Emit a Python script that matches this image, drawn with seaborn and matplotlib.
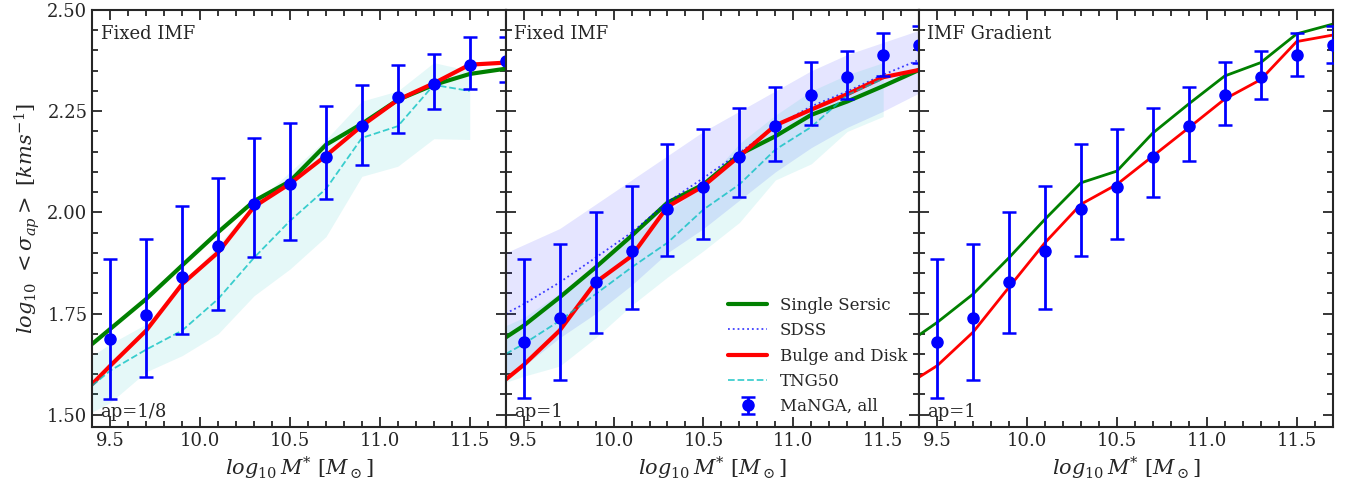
import matplotlib
matplotlib.use("Agg")
import matplotlib.pyplot as plt
import seaborn as sns
from matplotlib.ticker import MultipleLocator

# MaNGA binned measurements (stellar mass bins)
mass_bins = [9.5, 9.7, 9.9, 10.1, 10.3, 10.5, 10.7, 10.9, 11.1, 11.3, 11.5, 11.7]
manga_ap8 = [1.687, 1.747, 1.841, 1.917, 2.020, 2.071, 2.137, 2.213, 2.285, 2.318, 2.364, 2.375]
manga_ap8_hi = [1.886, 1.935, 2.016, 2.084, 2.184, 2.220, 2.262, 2.314, 2.363, 2.391, 2.433, 2.434]
manga_ap8_lo = [1.539, 1.594, 1.700, 1.758, 1.889, 1.931, 2.034, 2.117, 2.196, 2.255, 2.305, 2.323]
manga_ap1 = [1.679, 1.738, 1.829, 1.904, 2.009, 2.062, 2.137, 2.213, 2.291, 2.334, 2.389, 2.413]
manga_ap1_hi = [1.886, 1.921, 2.002, 2.065, 2.168, 2.205, 2.259, 2.310, 2.372, 2.398, 2.443, 2.461]
manga_ap1_lo = [1.542, 1.587, 1.702, 1.761, 1.892, 1.935, 2.039, 2.126, 2.215, 2.281, 2.337, 2.370]

# model curves
mass_model = [9.4, 9.5, 9.7, 9.9, 10.1, 10.3, 10.5, 10.7, 10.9, 11.1, 11.3, 11.5, 11.7]
sersic_fixed_ap8 = [1.675, 1.712, 1.786, 1.869, 1.951, 2.028, 2.077, 2.167, 2.219, 2.278, 2.315, 2.342, 2.355]
bd_fixed_ap8 = [1.576, 1.621, 1.708, 1.823, 1.901, 2.014, 2.071, 2.140, 2.214, 2.278, 2.319, 2.365, 2.370]
sersic_fixed_ap1 = [1.691, 1.720, 1.790, 1.864, 1.942, 2.024, 2.069, 2.143, 2.188, 2.241, 2.274, 2.312, 2.352]
bd_fixed_ap1 = [1.587, 1.623, 1.708, 1.827, 1.892, 2.014, 2.065, 2.139, 2.215, 2.254, 2.292, 2.334, 2.352]
sersic_grad_ap1 = [1.697, 1.728, 1.798, 1.888, 1.983, 2.073, 2.102, 2.196, 2.268, 2.337, 2.370, 2.441, 2.465]
bd_grad_ap1 = [1.593, 1.621, 1.704, 1.815, 1.925, 2.020, 2.069, 2.139, 2.209, 2.280, 2.328, 2.422, 2.438]

# SDSS (ap=1)
sdss = [1.750, 1.773, 1.827, 1.888, 1.950, 2.025, 2.085, 2.147, 2.213, 2.262, 2.299, 2.340, 2.377]
sdss_hi = [1.900, 1.920, 1.960, 2.020, 2.080, 2.140, 2.200, 2.250, 2.300, 2.350, 2.390, 2.420, 2.450]
sdss_lo = [1.600, 1.620, 1.690, 1.750, 1.820, 1.900, 1.960, 2.030, 2.100, 2.160, 2.210, 2.250, 2.295]

# TNG50
mass_tng = [9.4, 9.5, 9.7, 9.9, 10.1, 10.3, 10.5, 10.7, 10.9, 11.1, 11.3, 11.5]
tng_ap8 = [1.572, 1.609, 1.661, 1.708, 1.786, 1.888, 1.979, 2.058, 2.184, 2.213, 2.315, 2.300]
tng_ap8_hi = [1.646, 1.675, 1.724, 1.820, 1.920, 2.020, 2.100, 2.180, 2.275, 2.300, 2.370, 2.350]
tng_ap8_lo = [1.507, 1.530, 1.606, 1.646, 1.700, 1.794, 1.860, 1.940, 2.089, 2.114, 2.182, 2.180]
tng_ap1 = [1.650, 1.675, 1.732, 1.798, 1.864, 1.925, 2.007, 2.069, 2.155, 2.211, 2.290, 2.330]
tng_ap1_hi = [1.720, 1.740, 1.800, 1.870, 1.940, 2.000, 2.070, 2.170, 2.240, 2.300, 2.340, 2.370]
tng_ap1_lo = [1.580, 1.595, 1.620, 1.690, 1.770, 1.840, 1.905, 1.975, 2.080, 2.120, 2.200, 2.237]

sns.set_style("ticks")
plt.rcParams["font.family"] = ["DejaVu Serif"]
plt.rcParams["mathtext.fontset"] = "dejavuserif"

fig, axes = plt.subplots(1, 3, figsize=(13.57, 5.01), dpi=100, sharey=True)
fig.subplots_adjust(left=0.068, right=0.982, top=0.98, bottom=0.148, wspace=0)


def manga(ax, y, hi, lo):
    err = [[v - l for v, l in zip(y, lo)], [h - v for v, h in zip(y, hi)]]
    return ax.errorbar(mass_bins, y, yerr=err, fmt="o", color="b", ms=8,
                       elinewidth=2, capsize=5, capthick=1.8, label="MaNGA, all", zorder=5)


# panel 1: fixed IMF, ap=1/8
ax = axes[0]
ax.fill_between(mass_tng, tng_ap8_lo, tng_ap8_hi, color="c", alpha=0.1, lw=0)
sns.lineplot(x=mass_model, y=sersic_fixed_ap8, ax=ax, color="g", lw=3)
sns.lineplot(x=mass_model, y=bd_fixed_ap8, ax=ax, color="r", lw=3)
sns.lineplot(x=mass_tng, y=tng_ap8, ax=ax, color="c", lw=1.3, ls="--", alpha=0.75)
manga(ax, manga_ap8, manga_ap8_hi, manga_ap8_lo)
ax.text(0.02, 0.965, "Fixed IMF", transform=ax.transAxes, fontsize=13, va="top")
ax.text(0.02, 0.015, "ap=1/8", transform=ax.transAxes, fontsize=13, va="bottom")

# panel 2: fixed IMF, ap=1, with SDSS
ax = axes[1]
ax.fill_between(mass_model, sdss_lo, sdss_hi, color="b", alpha=0.1, lw=0)
ax.fill_between(mass_tng, tng_ap1_lo, tng_ap1_hi, color="c", alpha=0.1, lw=0)
h1 = ax.plot(mass_model, sersic_fixed_ap1, color="g", lw=3, label="Single Sersic")[0]
h2 = ax.plot(mass_model, sdss, color="b", lw=1.3, ls=":", alpha=0.75, label="SDSS")[0]
h3 = ax.plot(mass_model, bd_fixed_ap1, color="r", lw=3, label="Bulge and Disk")[0]
h4 = ax.plot(mass_tng, tng_ap1, color="c", lw=1.3, ls="--", alpha=0.75, label="TNG50")[0]
h5 = manga(ax, manga_ap1, manga_ap1_hi, manga_ap1_lo)
ax.text(0.02, 0.965, "Fixed IMF", transform=ax.transAxes, fontsize=13, va="top")
ax.text(0.02, 0.015, "ap=1", transform=ax.transAxes, fontsize=13, va="bottom")
ax.legend(handles=[h1, h2, h3, h4, h5], loc="lower right", frameon=False,
          fontsize=12, handlelength=2.3, borderaxespad=0.3, labelspacing=0.5)

# panel 3: IMF gradient, ap=1
ax = axes[2]
sns.lineplot(x=mass_model, y=sersic_grad_ap1, ax=ax, color="g", lw=2)
sns.lineplot(x=mass_model, y=bd_grad_ap1, ax=ax, color="r", lw=2)
manga(ax, manga_ap1, manga_ap1_hi, manga_ap1_lo)
ax.text(0.02, 0.965, "IMF Gradient", transform=ax.transAxes, fontsize=13, va="top")
ax.text(0.02, 0.015, "ap=1", transform=ax.transAxes, fontsize=13, va="bottom")

for ax in axes:
    ax.set_xlim(9.4, 11.7)
    ax.set_ylim(1.47, 2.5)
    ax.xaxis.set_major_locator(MultipleLocator(0.5))
    ax.xaxis.set_minor_locator(MultipleLocator(0.1))
    ax.yaxis.set_major_locator(MultipleLocator(0.25))
    ax.yaxis.set_minor_locator(MultipleLocator(0.05))
    ax.tick_params(which="both", direction="in", top=True, right=True, labelsize=13, width=1.3)
    ax.tick_params(which="major", length=7)
    ax.tick_params(which="minor", length=4)
    for s in ax.spines.values():
        s.set_linewidth(1.5)
    ax.set_xlabel(r"$log_{10}\,M^{*}\ [M_\odot]$", fontsize=15)
    ax.set_ylabel("")

axes[0].yaxis.set_major_formatter(matplotlib.ticker.FormatStrFormatter("%.2f"))
axes[0].set_ylabel(r"$log_{10}\ <\sigma_{ap}>\ [kms^{-1}]$", fontsize=15)

fig.savefig("out.png", dpi=100)
